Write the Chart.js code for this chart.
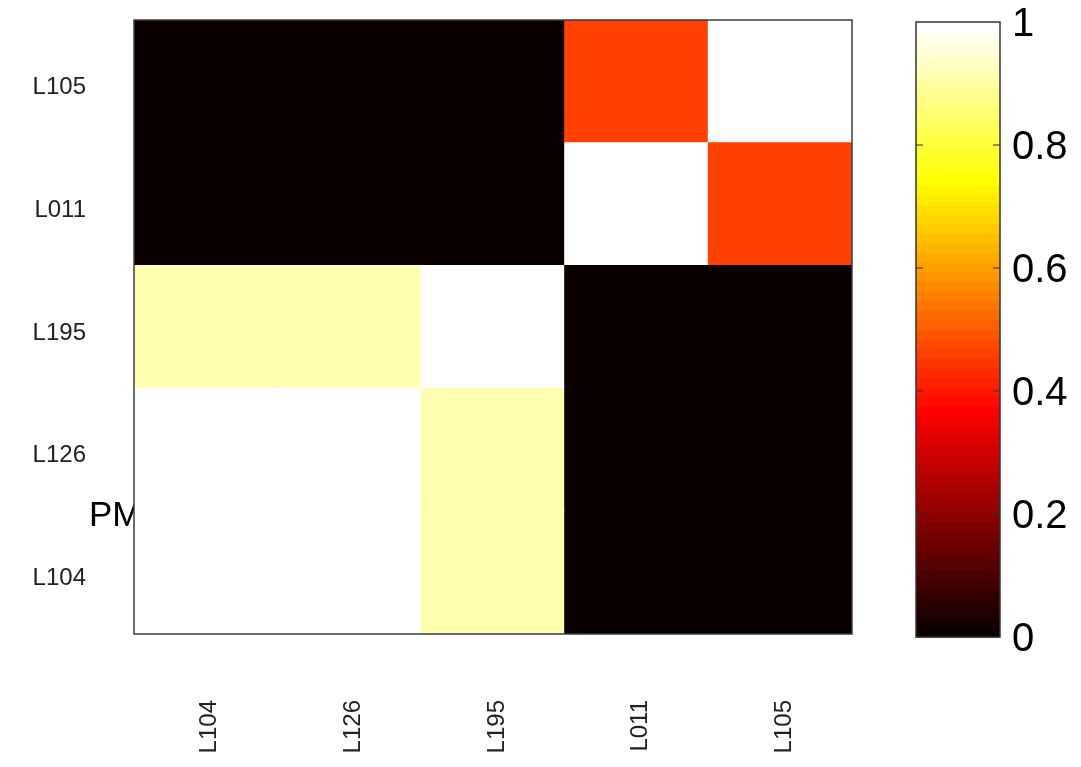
<!DOCTYPE html>
<html>
<head>
<meta charset="utf-8">
<script src="https://cdn.jsdelivr.net/npm/chart.js@4.4.1/dist/chart.umd.min.js"></script>
<style>
  html, body { margin: 0; padding: 0; background: #ffffff; }
  #wrap { position: relative; width: 1081px; height: 767px; }
  canvas { position: absolute; left: 0; top: 0; }
</style>
</head>
<body>
<div id="wrap">
  <canvas id="heat" width="1081" height="767"></canvas>
  <canvas id="cbar" width="1081" height="767"></canvas>
</div>
<script>
// ---- data ----
const colLabels = ['L104', 'L126', 'L195', 'L011', 'L105'];
// rows listed bottom -> top
const rowLabels = ['L104', 'L126', 'L195', 'L011', 'L105'];
const rowL104 = [1.00, 1.00, 0.92, 0.00, 0.00];
const rowL126 = [1.00, 1.00, 0.92, 0.00, 0.00];
const rowL195 = [0.92, 0.92, 1.00, 0.00, 0.00];
const rowL011 = [0.00, 0.00, 0.00, 1.00, 0.46];
const rowL105 = [0.00, 0.00, 0.00, 0.46, 1.00];
const rowValues = [rowL104, rowL126, rowL195, rowL011, rowL105];
const cbarTicks = [0, 0.2, 0.4, 0.6, 0.8, 1];
const yAxisLabel = 'PM';

// MATLAB "hot" colormap, 64 entries
const N = 64;
function hot(v) {
  const i = Math.max(0, Math.min(N - 1, Math.round(v * (N - 1))));
  const r = Math.min(1, (i + 1) / 24);
  const g = i < 24 ? 0 : Math.min(1, (i + 1 - 24) / 24);
  const b = i < 48 ? 0 : Math.min(1, (i + 1 - 48) / 16);
  return `rgb(${Math.round(r * 255)},${Math.round(g * 255)},${Math.round(b * 255)})`;
}

const FONT = "'Liberation Sans', Arial, sans-serif";

const heatDatasets = rowValues.map((vals, r) => ({
  label: rowLabels[r],
  data: vals.map(() => 1),
  heat: vals,
  backgroundColor: vals.map(v => hot(v)),
  borderWidth: 0,
  inflateAmount: 0.6,
  barPercentage: 1,
  categoryPercentage: 1,
  stack: 's'
}));

const framePlugin = {
  id: 'frame',
  afterDraw(chart) {
    const { ctx, chartArea: a } = chart;
    ctx.save();
    // y-axis label, partly hidden behind the plot
    ctx.beginPath();
    ctx.rect(0, 0, a.left, chart.height);
    ctx.clip();
    ctx.fillStyle = '#000';
    ctx.font = `35px ${FONT}`;
    ctx.textBaseline = 'alphabetic';
    ctx.textAlign = 'left';
    ctx.fillText(yAxisLabel, 89, 526);
    ctx.restore();
    ctx.save();
    ctx.strokeStyle = '#3c3c3c';
    ctx.lineWidth = 1.5;
    ctx.strokeRect(a.left, a.top, a.right - a.left, a.bottom - a.top);
    ctx.restore();
  }
};

new Chart(document.getElementById('heat'), {
  type: 'bar',
  data: { labels: colLabels, datasets: heatDatasets },
  options: {
    responsive: false,
    animation: false,
    devicePixelRatio: 1,
    layout: { padding: { left: 0, right: 229, top: 20, bottom: 0 } },
    plugins: { legend: { display: false }, tooltip: { enabled: false } },
    scales: {
      x: {
        stacked: true,
        grid: { display: false, drawTicks: false },
        border: { display: false },
        ticks: {
          autoSkip: false,
          minRotation: 90,
          maxRotation: 90,
          padding: 66,
          labelOffset: 4,
          color: '#222',
          font: { family: FONT, size: 24 }
        },
        afterFit(s) { s.height = 133; s.paddingLeft = 0; s.paddingRight = 0; }
      },
      y: {
        stacked: true,
        min: 0,
        max: 5,
        grid: { display: false, drawTicks: false },
        border: { display: false },
        afterBuildTicks(s) {
          s.ticks = rowLabels.map((_, i) => ({ value: i + 0.5 }));
        },
        ticks: {
          autoSkip: false,
          padding: 48,
          labelOffset: 6,
          color: '#222',
          font: { family: FONT, size: 24 },
          callback(value, index) { return rowLabels[index]; }
        },
        afterFit(s) { s.width = 134; s.paddingTop = 0; s.paddingBottom = 0; }
      }
    }
  },
  plugins: [framePlugin]
});

// ---- colorbar ----
const cbarPlugin = {
  id: 'cbarDraw',
  beforeDatasetsDraw(chart) {
    const { ctx, chartArea: a } = chart;
    const ys = chart.scales.y;
    ctx.save();
    for (let i = 0; i < N; i++) {
      const yTop = ys.getPixelForValue((i + 1) / N);
      const yBot = ys.getPixelForValue(i / N);
      ctx.fillStyle = hot(i / (N - 1));
      ctx.fillRect(a.left, yTop - 0.5, a.right - a.left, yBot - yTop + 1);
    }
    ctx.strokeStyle = '#333';
    ctx.lineWidth = 1.5;
    ctx.strokeRect(a.left, a.top, a.right - a.left, a.bottom - a.top);
    ctx.lineWidth = 1.2;
    cbarTicks.forEach(t => {
      if (t <= 0 || t >= 1) return;
      const y = ys.getPixelForValue(t);
      ctx.beginPath();
      ctx.moveTo(a.left, y); ctx.lineTo(a.left + 7, y);
      ctx.moveTo(a.right, y); ctx.lineTo(a.right - 7, y);
      ctx.stroke();
    });
    ctx.restore();
  }
};

new Chart(document.getElementById('cbar'), {
  type: 'bar',
  data: { labels: [''], datasets: [{ data: [] }] },
  options: {
    responsive: false,
    animation: false,
    devicePixelRatio: 1,
    layout: { padding: { left: 916, right: 0, top: 22, bottom: 130 } },
    plugins: { legend: { display: false }, tooltip: { enabled: false } },
    scales: {
      x: { display: false },
      y: {
        position: 'right',
        min: 0,
        max: 1,
        grid: { display: false, drawTicks: false },
        border: { display: false },
        afterBuildTicks(s) { s.ticks = cbarTicks.map(v => ({ value: v })); },
        ticks: {
          padding: 12,
          labelOffset: 3,
          color: '#000',
          font: { family: FONT, size: 40 },
          callback(value) { return String(Math.round(value * 10) / 10); }
        },
        afterFit(s) { s.width = 81; s.paddingTop = 0; s.paddingBottom = 0; }
      }
    }
  },
  plugins: [cbarPlugin]
});
</script>
</body>
</html>
